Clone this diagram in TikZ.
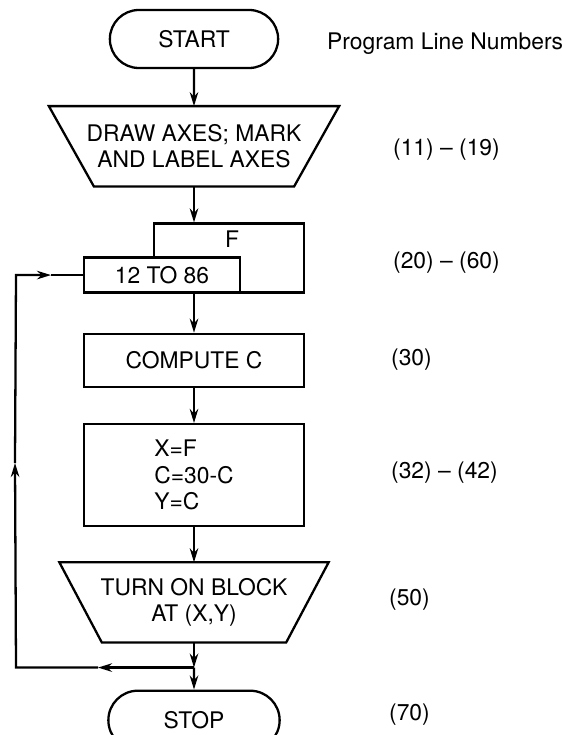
\documentclass[tikz,border=0pt]{standalone}
\usepackage{fontspec}
\setmainfont{TeX Gyre Heros}
\usetikzlibrary{shapes.misc, arrows.meta, positioning}

\begin{document}
\begin{tikzpicture}[>={Stealth[length=2.8mm, width=1.7mm]}, line width=1.3pt,
  every node/.style={font=\fontsize{13}{15}\selectfont},
  term/.style={rounded rectangle, draw, minimum width=3.6cm, minimum height=1.16cm},
  box/.style={rectangle, draw, minimum width=4.4cm, align=center},
  io/.style={rectangle, minimum width=#1, minimum height=1.56cm, align=center, inner sep=0pt},
  lineno/.style={anchor=west, inner sep=0pt}]
  \useasboundingbox (0,0) rectangle (11.24,-14.70);
  \node[term] (start) at (3.88,-0.78) {START};
  \node[io=5.76cm, below=0.74cm of start] (axes) {DRAW AXES; MARK\\AND LABEL AXES};
  \draw (axes.north west) -- (axes.north east) -- ([xshift=-0.9cm]axes.south east) -- ([xshift=0.9cm]axes.south west) -- cycle;
  \node[box, minimum width=3cm, minimum height=1.38cm, below=0.72cm of axes, xshift=0.7cm] (range) {};
  \node (fvar) at ([xshift=0.06cm, yshift=-0.34cm]range.north) {F};
  \node[box, fill=white, minimum width=3.12cm, minimum height=0.7cm, anchor=south west] (count) at ([xshift=-1.4cm]range.south west) {12 TO 86};
  \node[box, minimum height=1.06cm, below=0.78cm of range, xshift=-0.7cm] (compute) {COMPUTE C};
  \node[box, minimum height=2.04cm, align=left, below=0.70cm of compute] (xfy) {X=F\\C=30-C\\Y=C};
  \node[io=5.34cm, below=0.70cm of xfy] (turn) {TURN ON BLOCK\\AT (X,Y)};
  \draw (turn.north west) -- (turn.north east) -- ([xshift=-0.85cm]turn.south east) -- ([xshift=0.85cm]turn.south west) -- cycle;
  \coordinate[below=0.5cm of turn] (junc);
  \node[term, minimum width=3.66cm, minimum height=1.18cm, below=0.44cm of junc] (stop) {STOP};
  \draw[->] (start) -- (axes);
  \draw[->] (axes) -- (axes.south |- range.north);
  \draw[->] (count.south -| compute.north) -- (compute);
  \draw[->] (compute) -- (xfy);
  \draw[->] (xfy) -- (turn);
  \draw[->] (turn) -- (junc);
  \draw[->] (junc) -- (stop);
  % loop back to the counter
  \coordinate[left=1.92cm of junc] (backmark);
  \coordinate[left=3.56cm of junc] (backcorner);
  \coordinate (upmark) at (0.3,-9.26);
  \coordinate (topcorner) at (count.west -| backcorner);
  \coordinate[right=0.7cm of topcorner] (inmark);
  \draw[->] (junc) -- (backmark);
  \draw[->] (backmark) -- (backcorner) -- (upmark);
  \draw[->] (upmark) -- (topcorner) -- (inmark);
  \draw (inmark) -- (count);
  % program line numbers
  \node[lineno] (heading) at (6.52,-0.88) {Program Line Numbers};
  \node[lineno] (n11) at (7.84,-3.0) {(11) -- (19)};
  \node[lineno] (n20) at (7.84,-5.26) {(20) -- (60)};
  \node[lineno] (n30) at (7.8,-7.2) {(30)};
  \node[lineno] (n32) at (7.8,-9.46) {(32) -- (42)};
  \node[lineno] (n50) at (7.76,-12.0) {(50)};
  \node[lineno] (n70) at (7.76,-14.3) {(70)};
\end{tikzpicture}
\end{document}
